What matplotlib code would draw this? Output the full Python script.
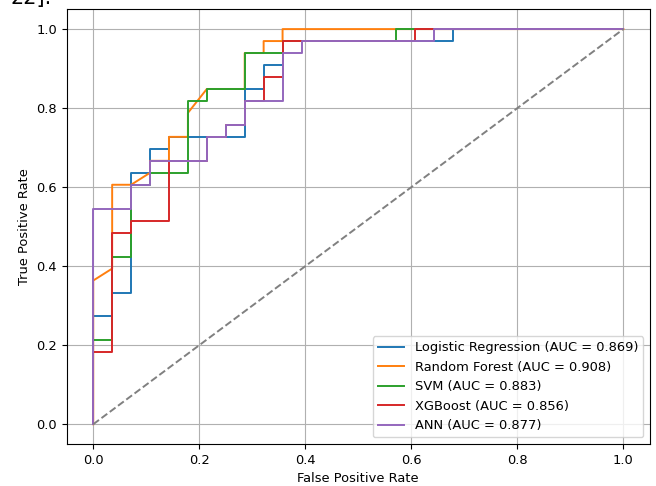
import numpy as np
import matplotlib
matplotlib.use("Agg")
import matplotlib.pyplot as plt

# ROC step points, as counts of negatives (28) and positives (33)
n_neg = 28
n_pos = 33

lr_fp = [0, 0, 1, 1, 2, 2, 3, 3, 4, 4, 8, 8, 9, 9, 10, 10, 19, 19, 28]
lr_tp = [0, 9, 9, 11, 11, 21, 21, 23, 23, 24, 24, 28, 28, 30, 30, 32, 32, 33, 33]

rf_fp = [0, 0, 1, 1, 2, 3, 3, 4, 4, 5, 5, 6, 8, 8, 9, 9, 10, 10, 28]
rf_tp = [0, 12, 13, 20, 20, 21, 22, 22, 24, 24, 26, 28, 28, 31, 31, 32, 32, 33, 33]

svm_fp = [0, 0, 1, 1, 2, 2, 3, 3, 5, 5, 6, 6, 8, 8, 10, 10, 16, 16, 28]
svm_tp = [0, 7, 7, 14, 14, 20, 20, 21, 21, 27, 27, 28, 28, 31, 31, 32, 32, 33, 33]

xgb_fp = [0, 0, 1, 1, 2, 2, 4, 4, 6, 6, 7, 7, 8, 8, 9, 9, 10, 10, 17, 17, 28]
xgb_tp = [0, 6, 6, 16, 16, 17, 17, 22, 22, 24, 24, 25, 25, 27, 27, 29, 29, 32, 32, 33, 33]

ann_fp = [0, 0, 2, 2, 3, 3, 6, 6, 7, 7, 8, 8, 10, 10, 11, 11, 18, 18, 28]
ann_tp = [0, 18, 18, 20, 20, 22, 22, 24, 24, 25, 25, 27, 27, 31, 31, 32, 32, 33, 33]

models = ["Logistic Regression", "Random Forest", "SVM", "XGBoost", "ANN"]
aucs = [0.869, 0.908, 0.883, 0.856, 0.877]
curves = [(lr_fp, lr_tp), (rf_fp, rf_tp), (svm_fp, svm_tp), (xgb_fp, xgb_tp), (ann_fp, ann_tp)]

# reference looks like a slightly shrunk default figure
plt.rcParams["font.size"] = 9.4
plt.rcParams["lines.linewidth"] = 1.4

fig = plt.figure(figsize=(6.56, 4.86), dpi=100)
ax = fig.add_axes([0.1017, 0.0864, 0.889, 0.8944])

for name, auc, (fp, tp) in zip(models, aucs, curves):
    fpr = np.array(fp) / n_neg
    tpr = np.array(tp) / n_pos
    ax.plot(fpr, tpr, label=f"{name} (AUC = {auc:.3f})")

ax.plot([0, 1], [0, 1], linestyle="--", color="gray")
ax.set_xlabel("False Positive Rate")
ax.set_ylabel("True Positive Rate")
ax.legend(loc="lower right")
ax.grid(True)

# bit of the surrounding page text that was caught at the top
fig.text(10 / 656, 1 - 4 / 486, "22].", fontsize=15, va="baseline", ha="left")

fig.savefig("out.png", dpi=100)
